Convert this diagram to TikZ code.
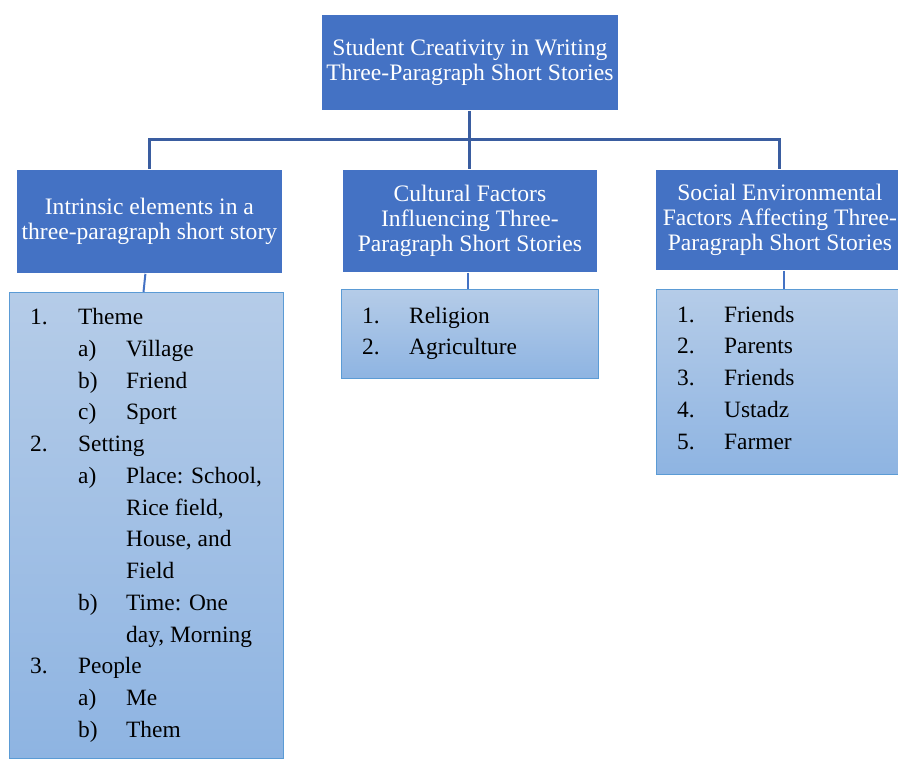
\documentclass[tikz,border=0pt]{standalone}
\usepackage{fontspec}
\setmainfont{Liberation Serif}
\definecolor{hdr}{RGB}{68,114,196}
\definecolor{conn}{RGB}{58,93,160}
\definecolor{listtop}{RGB}{181,204,232}
\definecolor{listbot}{RGB}{142,180,226}
\definecolor{listedge}{RGB}{91,155,213}
\tikzset{
  titlebox/.style={fill=hdr, draw=white, line width=0.8pt, text=white, align=center, inner sep=0pt,
    font=\fontsize{23.6}{25}\selectfont},
  listbox/.style={top color=listtop, bottom color=listbot, draw=listedge, line width=1pt, inner sep=0pt, anchor=north west},
  itemtxt/.style={anchor=base west, inner sep=0pt, font=\fontsize{23.4}{27}\selectfont},
  mainconn/.style={draw=conn, line width=3pt},
  subconn/.style={draw=hdr, line width=2pt}
}
\begin{document}
\begin{tikzpicture}[x=1pt,y=-1pt]
\useasboundingbox (0,0) rectangle (898,760);
\clip (0,0) rectangle (898,760);
\fill[white] (0,0) rectangle (898,760);

% title boxes
\node[titlebox, minimum width=297pt, minimum height=96pt, anchor=north west] (top) at (321,14)
  {Student Creativity in Writing\\Three-Paragraph Short Stories};
\node[titlebox, minimum width=266pt, minimum height=104pt, anchor=north west] (leftT) at (16,169)
  {Intrinsic elements in a\\three-paragraph short story};
\node[titlebox, minimum width=255pt, minimum height=103pt, anchor=north west] (midT) at (342,169)
  {Cultural Factors\\Influencing Three-\\Paragraph Short Stories};
\node[titlebox, minimum width=249pt, minimum height=101pt, anchor=north west] (rightT) at (655,169)
  {Social Environmental\\Factors Affecting Three-\\Paragraph Short Stories};

% list boxes
\node[listbox, minimum width=274pt, minimum height=466pt] (leftL) at (9,292) {};
\node[listbox, minimum width=257pt, minimum height=89pt] (midL) at (341,289) {};
\node[listbox, minimum width=250pt, minimum height=185pt] (rightL) at (656,289) {};

% connectors
\draw[mainconn] (top.south) -- (midT.north);
\draw[mainconn] (leftT.north) -- ++(0,-30) -| (rightT.north);
\draw[subconn] ([xshift=-4pt]leftT.south) -- ([xshift=-3pt]leftL.north);
\draw[subconn] ([xshift=-2pt]midT.south) -- ([xshift=-2pt]midT.south |- midL.north);
\draw[subconn] ([xshift=4.5pt]rightT.south) -- ([xshift=4.5pt]rightT.south |- rightL.north);

% left list
\foreach \x/\lab/\txt [count=\i] in {30/1./Theme, 78/a)/Village, 78/b)/Friend, 78/c)/Sport,
    30/2./Setting, 78/a)/{Place: School,}, 78//{Rice field,}, 78//{House, and}, 78//Field,
    78/b)/{Time: One}, 78//{day, Morning}, 30/3./People, 78/a)/Me, 78/b)/Them}
  \node[itemtxt] (lt\i) at (\x, {324.5+31.77*(\i-1)}) {\makebox[48pt][l]{\lab}\txt};

% middle list
\foreach \lab/\txt [count=\i] in {1./Religion, 2./Agriculture}
  \node[itemtxt] (mt\i) at (362, {323+31.77*(\i-1)}) {\makebox[47pt][l]{\lab}\txt};

% right list
\foreach \lab/\txt [count=\i] in {1./Friends, 2./Parents, 3./Friends, 4./Ustadz, 5./Farmer}
  \node[itemtxt] (rt\i) at (677, {322+31.77*(\i-1)}) {\makebox[47pt][l]{\lab}\txt};
\end{tikzpicture}
\end{document}
